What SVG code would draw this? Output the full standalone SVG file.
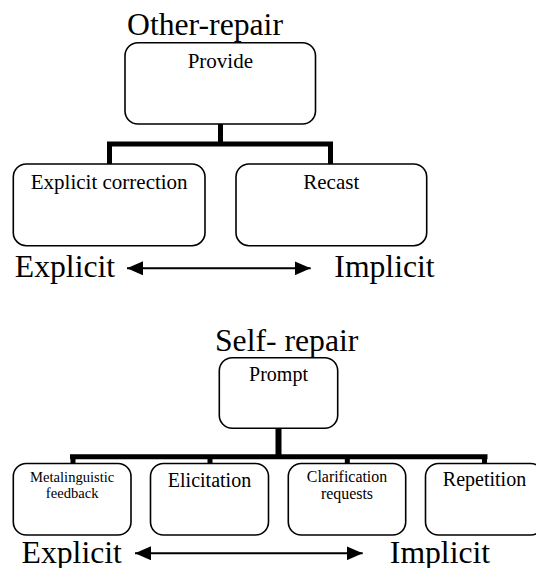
<svg xmlns="http://www.w3.org/2000/svg" width="536" height="568" viewBox="0 0 536 568" font-family="'Liberation Serif', 'Times New Roman', 'DejaVu Serif', serif">
<style>
text{fill:#000;text-anchor:middle}
.big{font-size:31.7px}
.box{fill:#fff;stroke:#000;stroke-width:1.6}
.conn{fill:none;stroke:#000;stroke-width:5;stroke-linecap:butt;stroke-linejoin:miter}
.arr{stroke:#000;stroke-width:2;fill:none}
</style>
<defs>
<marker id="ah" markerUnits="userSpaceOnUse" markerWidth="17" markerHeight="14" refX="16" refY="7" orient="auto-start-reverse">
<path d="M0,0 L16,7 L0,14 Z" fill="#000"/>
</marker>
</defs>
<rect width="536" height="568" fill="#fff"/>

<g id="connectors">
<path class="conn" d="M220.5,124 V144 M107,144 H333 M109.5,144 V164 M330.5,144 V164"/>
<path class="conn" d="M278.5,428 V457" style="stroke-width:6"/>
<path class="conn" d="M70,456.7 H487.5 M73,456.7 V464 M210,456.7 V464 M347.3,456.7 V464 M484.5,456.7 V464"/>
<line class="arr" x1="127" y1="268.3" x2="310.7" y2="268.3" marker-start="url(#ah)" marker-end="url(#ah)"/>
<line class="arr" x1="135" y1="553.3" x2="362.7" y2="553.3" marker-start="url(#ah)" marker-end="url(#ah)"/>
</g>

<g id="title-other">
<text class="big" x="205" y="35">Other-repair</text>
</g>
<g id="provide">
<rect class="box" x="125" y="42.7" width="190.5" height="81.3" rx="13"/>
<text x="220.3" y="68.3" font-size="21">Provide</text>
</g>
<g id="explicit-correction">
<rect class="box" x="13.3" y="164" width="191.7" height="81.7" rx="13"/>
<text x="109.2" y="189.3" font-size="21">Explicit correction</text>
</g>
<g id="recast">
<rect class="box" x="236" y="164" width="190.7" height="81.7" rx="13"/>
<text x="331.3" y="189.3" font-size="21">Recast</text>
</g>
<g id="scale-top">
<text class="big" x="65" y="276.7">Explicit</text>
<text class="big" x="384.5" y="276.7">Implicit</text>
</g>

<g id="title-self">
<text class="big" x="286.7" y="351">Self- repair</text>
</g>
<g id="prompt">
<rect class="box" x="219.3" y="357.7" width="118.4" height="70.6" rx="13"/>
<text x="278.5" y="381" font-size="20">Prompt</text>
</g>
<g id="metalinguistic">
<rect class="box" x="13.3" y="463.5" width="117.7" height="71.5" rx="13"/>
<text x="72.2" y="481.7" font-size="14.6">Metalinguistic</text>
<text x="72.2" y="498.3" font-size="14.6">feedback</text>
</g>
<g id="elicitation">
<rect class="box" x="150.5" y="463.5" width="118" height="71.5" rx="13"/>
<text x="209.5" y="486.7" font-size="20">Elicitation</text>
</g>
<g id="clarification">
<rect class="box" x="288.3" y="463.5" width="117.4" height="71.5" rx="13"/>
<text x="347" y="481.7" font-size="15.9">Clarification</text>
<text x="347" y="499.3" font-size="15.9">requests</text>
</g>
<g id="repetition">
<rect class="box" x="425.5" y="463.5" width="118" height="71.5" rx="13"/>
<text x="484.5" y="486.3" font-size="20">Repetition</text>
</g>
<g id="scale-bottom">
<text class="big" x="71.7" y="563">Explicit</text>
<text class="big" x="440" y="563">Implicit</text>
</g>
</svg>
